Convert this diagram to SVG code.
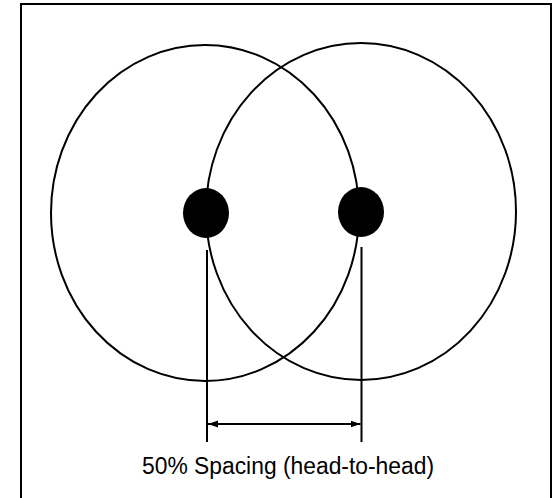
<svg xmlns="http://www.w3.org/2000/svg" width="554" height="498" viewBox="0 0 554 498">
<style>
.ring{fill:none;stroke:#000;stroke-width:2}
.dot{fill:#000}
.ln{stroke:#000;stroke-width:2;fill:none}
.lbl{font-family:"Liberation Sans",Arial,sans-serif;font-size:23.5px;fill:#000}
</style>
<defs>
<marker id="ah" viewBox="0 0 10 10" refX="10" refY="5" markerWidth="10" markerHeight="10" markerUnits="userSpaceOnUse" orient="auto-start-reverse">
<path d="M0,1.5 L10,5 L0,8.5 Z" fill="#000"/>
</marker>
</defs>
<rect x="0" y="0" width="554" height="498" fill="#fff"/>
<rect x="21" y="4" width="530" height="500" fill="none" stroke="#000" stroke-width="2"/>
<g id="left-node">
<ellipse class="ring" cx="205" cy="213" rx="154" ry="168"/>
<ellipse class="dot" cx="206" cy="213" rx="23" ry="25"/>
</g>
<g id="right-node">
<ellipse class="ring" cx="361" cy="211.5" rx="155" ry="168.5"/>
<ellipse class="dot" cx="361" cy="212" rx="23" ry="25"/>
</g>
<g id="connectors">
<line class="ln" x1="207" y1="250" x2="207" y2="442"/>
<line class="ln" x1="361.5" y1="247" x2="361.5" y2="442"/>
<line class="ln" x1="208" y1="424" x2="360.5" y2="424" marker-start="url(#ah)" marker-end="url(#ah)"/>
</g>
<g id="label">
<text class="lbl" x="288" y="474" text-anchor="middle" textLength="292" lengthAdjust="spacingAndGlyphs">50% Spacing (head-to-head)</text>
</g>
</svg>
